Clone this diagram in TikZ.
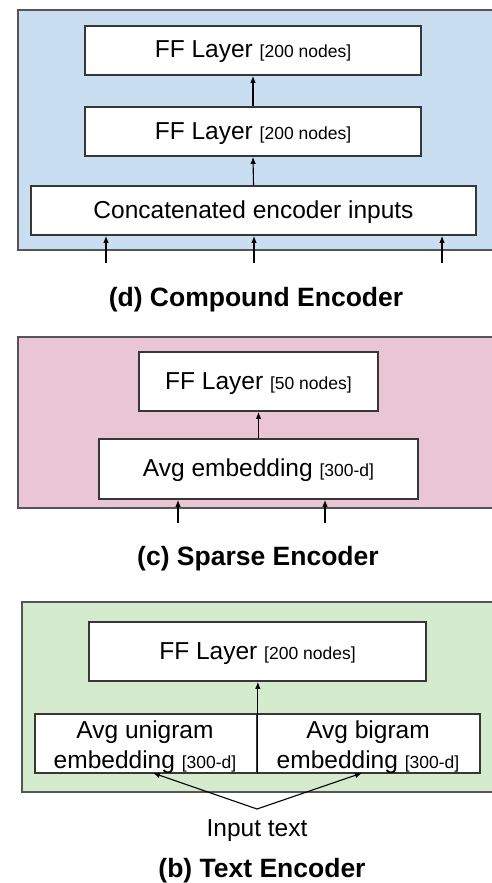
\documentclass[tikz,border=0pt]{standalone}
\usepackage{fontspec}
\setmainfont{Liberation Sans}
\usetikzlibrary{arrows.meta,calc}
\definecolor{blueF}{RGB}{201,222,241}
\definecolor{pinkF}{RGB}{234,197,211}
\definecolor{greenF}{RGB}{213,235,206}
\definecolor{edgeC}{RGB}{55,55,55}
\definecolor{panelC}{RGB}{85,85,85}
\newcommand\mainsz{\fontsize{24.5}{29}\selectfont}
\newcommand\smsz{\fontsize{17.5}{20}\selectfont}
\newcommand\ttlsz{\fontsize{26.5}{30}\selectfont\bfseries}
\begin{document}
\begin{tikzpicture}[x=1pt,y=-1pt,
  panel/.style={draw=panelC,line width=1.4pt},
  box/.style={draw=edgeC,fill=white,line width=1.7pt,inner sep=0pt,
              font=\mainsz,text height=15pt,text depth=0pt},
  lbl/.style={font=\mainsz,inner sep=0pt,anchor=base},
  ttl/.style={font=\ttlsz,inner sep=0pt,anchor=base},
  arr/.style={-{Latex[length=7pt,width=5.5pt]},line width=1.1pt,draw=black}]
\useasboundingbox (0,0) rectangle (492,883);
\fill[white] (0,0) rectangle (492,883);
\clip (0,0) rectangle (492,883);

% ---------- (d) Compound Encoder ----------
\draw[panel,fill=blueF] (18,10) rectangle (520,250);
\node[box,minimum width=336pt,minimum height=49pt] (ff1) at (253,50.5)
  {FF Layer {\smsz[200 nodes]}};
\node[box,minimum width=336pt,minimum height=49pt] (ff2) at (253,131.5)
  {FF Layer {\smsz[200 nodes]}};
\node[box,minimum width=445pt,minimum height=49pt] (cat) at (253.5,210.5)
  {Concatenated encoder inputs};
\draw[arr] (cat.north) -- (ff2.south);
\draw[arr] (ff2.north) -- (ff1.south);
\coordinate (d1) at (106,263);
\coordinate (d2) at (254,263);
\coordinate (d3) at (442,263);
\draw[arr] (d1) -- (d1 |- cat.south);
\draw[arr] (d2) -- (d2 |- cat.south);
\draw[arr] (d3) -- (d3 |- cat.south);
\node[ttl] (td) at (256,306) {(d) Compound Encoder};

% ---------- (c) Sparse Encoder ----------
\draw[panel,fill=pinkF] (18,337) rectangle (520,508);
\node[box,minimum width=239pt,minimum height=59pt] (ffc) at (258.5,381.5)
  {FF Layer {\smsz[50 nodes]}};
\node[box,minimum width=319pt,minimum height=60pt] (avg) at (258.5,469)
  {Avg embedding {\smsz[300-d]}};
\draw[arr] (avg.north) -- (ffc.south);
\coordinate (c1) at (178,523);
\coordinate (c2) at (325,523);
\draw[arr] (c1) -- (c1 |- avg.south);
\draw[arr] (c2) -- (c2 |- avg.south);
\node[ttl] (tc) at (258,565) {(c) Sparse Encoder};

% ---------- (b) Text Encoder ----------
\draw[panel,fill=greenF] (22,602) rectangle (520,792);
\node[box,minimum width=337pt,minimum height=59pt] (ffb) at (257.5,651.5)
  {FF Layer {\smsz[200 nodes]}};
\node[box,minimum width=222pt,minimum height=59pt] (uni) at (146,743.5) {};
\node[box,minimum width=223pt,minimum height=59pt] (bi) at (368.5,743.5) {};
\node[lbl] (uni1) at (145,738) {Avg unigram};
\node[lbl] (uni2) at (145,768) {embedding {\smsz[300-d]}};
\node[lbl] (bi1) at (368,738) {Avg bigram};
\node[lbl] (bi2) at (368,768) {embedding {\smsz[300-d]}};
\draw[arr] (uni.south east) -- (uni.south east |- ffb.south);
\coordinate (apex) at (257,809);
\coordinate (ua) at (153,773);
\coordinate (ba) at (362,773);
\draw[arr] (apex) -- (ua);
\draw[arr] (apex) -- (ba);
\node[lbl] (inp) at (257,836) {Input text};
\node[ttl] (tb) at (262,877) {(b) Text Encoder};
\end{tikzpicture}
\end{document}
